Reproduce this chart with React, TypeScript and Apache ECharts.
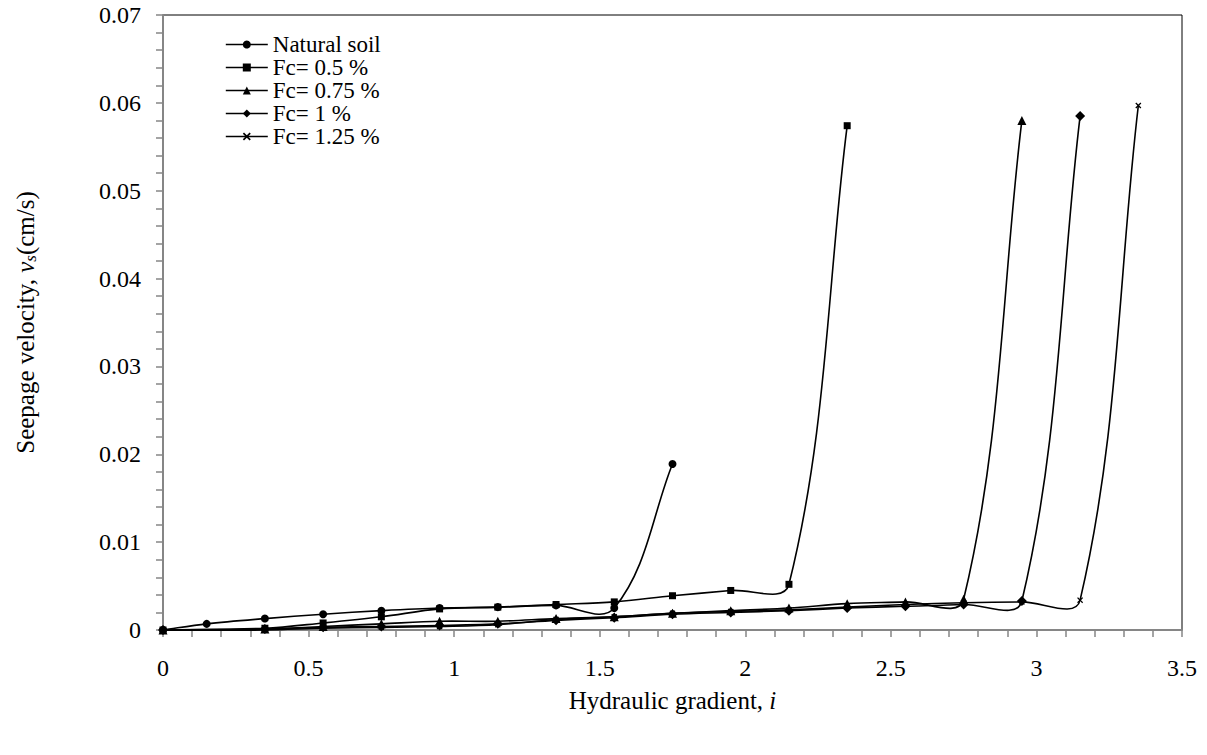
import React, { useEffect, useRef } from "react";
import * as echarts from "echarts";

// Hydraulic gradient values (x)
const gradNatural = [0, 0.15, 0.35, 0.55, 0.75, 0.95, 1.15, 1.35, 1.55, 1.75];
const gradFc = [0, 0.35, 0.55, 0.75, 0.95, 1.15, 1.35, 1.55, 1.75, 1.95, 2.15, 2.35, 2.55, 2.75, 2.95, 3.15, 3.35];

// Seepage velocity values (cm/s)
const velNatural = [0, 0.0007, 0.0013, 0.0018, 0.0022, 0.0025, 0.0026, 0.0028, 0.0025, 0.0189];
const velFc050 = [0, 0.0002, 0.0008, 0.0015, 0.0024, 0.0026, 0.0029, 0.0032, 0.0039, 0.0045, 0.0052, 0.0574];
const velFc075 = [0, 0.0001, 0.0004, 0.0007, 0.001, 0.001, 0.0013, 0.0015, 0.0019, 0.0022, 0.0025, 0.003, 0.0032, 0.0035, 0.058];
const velFc100 = [0, 0.0001, 0.0003, 0.0004, 0.0005, 0.0007, 0.0011, 0.0014, 0.0018, 0.002, 0.0022, 0.0025, 0.0027, 0.0029, 0.0033, 0.0585];
const velFc125 = [0, 0, 0.0002, 0.0003, 0.0004, 0.0006, 0.0012, 0.0015, 0.0019, 0.0021, 0.0023, 0.0026, 0.0029, 0.0031, 0.0032, 0.0034, 0.0597];

const seriesNames = ["Natural soil", "Fc= 0.5 %", "Fc= 0.75 %", "Fc= 1 %", "Fc= 1.25 %"];

const xTicks = { min: 0, max: 3.5, interval: 0.5 };
const yTicks = { min: 0, max: 0.07, interval: 0.01 };

const crossPath =
  "path://M0,1.5L1.5,0L5,3.5L8.5,0L10,1.5L6.5,5L10,8.5L8.5,10L5,6.5L1.5,10L0,8.5L3.5,5Z";

const FONT = "Liberation Serif";

function pairs(xs: number[], ys: number[]) {
  return ys.map((v, i) => [xs[i], v]);
}

// Smooth Bezier through pixel points: tangent from neighbours, handle length from the segment length
function smoothPath(pts: number[][], k = 0.34) {
  const n = pts.length;
  const tangent = (i: number) => {
    const p = pts[Math.max(0, i - 1)];
    const q = pts[Math.min(n - 1, i + 1)];
    const dx = q[0] - p[0];
    const dy = q[1] - p[1];
    const L = Math.hypot(dx, dy) || 1;
    return [dx / L, dy / L];
  };
  let d = `M${pts[0][0]},${pts[0][1]}`;
  for (let i = 0; i < n - 1; i++) {
    const a = pts[i];
    const b = pts[i + 1];
    const len = Math.hypot(b[0] - a[0], b[1] - a[1]);
    const ta = tangent(i);
    const tb = tangent(i + 1);
    const c1 = [a[0] + ta[0] * len * k, a[1] + ta[1] * len * k];
    const c2 = [b[0] - tb[0] * len * k, b[1] - tb[1] * len * k];
    d += ` C${c1[0]},${c1[1]} ${c2[0]},${c2[1]} ${b[0]},${b[1]}`;
  }
  return d;
}

export default function App() {
  const ref = useRef<HTMLDivElement>(null);
  useEffect(() => {
    document.body.style.margin = "0";
    const chart = echarts.init(ref.current!, null, { renderer: "svg" });
    const allData = [
      pairs(gradNatural, velNatural),
      pairs(gradFc, velFc050),
      pairs(gradFc, velFc075),
      pairs(gradFc, velFc100),
      pairs(gradFc, velFc125),
    ];
    const symbols = ["circle", "rect", "triangle", "diamond", crossPath];
    const sizes = [8, 7, 9, 10, 6];

    const markerSeries = allData.map((data, i) => ({
      name: seriesNames[i],
      type: "line",
      data,
      symbol: symbols[i],
      symbolSize: sizes[i],
      showAllSymbol: true,
      z: 3,
      lineStyle: { color: "#000", width: 1.6, opacity: 0 },
      itemStyle: { color: "#000" },
      emphasis: { disabled: true },
      silent: true,
    }));

    const curveSeries = allData.map((data, i) => ({
      name: "curve" + i,
      type: "custom",
      coordinateSystem: "cartesian2d",
      data: [[data[0][0], data[0][1]]],
      z: 2,
      silent: true,
      renderItem: (_params: any, api: any) => {
        const pts = data.map((p) => api.coord(p));
        return {
          type: "path",
          shape: { pathData: smoothPath(pts) },
          style: { stroke: "#000", fill: "none", lineWidth: 1.6 },
        };
      },
    }));

    chart.setOption({
      animation: false,
      backgroundColor: "#fff",
      textStyle: { fontFamily: FONT, color: "#000" },
      grid: {
        left: 163,
        right: 25,
        top: 15,
        bottom: 125,
        show: true,
        borderColor: "#000",
        borderWidth: 1,
        backgroundColor: "transparent",
      },
      legend: {
        orient: "vertical",
        left: 220,
        top: 28,
        itemWidth: 42,
        itemHeight: 10,
        itemGap: 0,
        data: seriesNames,
        lineStyle: { color: "#000", width: 1.6, opacity: 1 },
        textStyle: { fontFamily: FONT, fontSize: 23, color: "#000" },
      },
      xAxis: {
        type: "value",
        ...xTicks,
        name: "Hydraulic gradient, {i|i}",
        nameLocation: "middle",
        nameGap: 58,
        nameTextStyle: {
          fontFamily: FONT,
          fontSize: 25,
          color: "#000",
          rich: { i: { fontFamily: FONT, fontSize: 25, fontStyle: "italic", color: "#000" } },
        },
        axisLine: { lineStyle: { color: "#868686", width: 2 } },
        axisTick: { show: true, length: 7, lineStyle: { color: "#868686", width: 1.5 } },
        minorTick: { show: true, splitNumber: 5, length: 7, lineStyle: { color: "#868686", width: 1.5 } },
        splitLine: { show: false },
        axisLabel: { fontFamily: FONT, fontSize: 24, color: "#000", margin: 26 },
      },
      yAxis: {
        type: "value",
        ...yTicks,
        name: "{a|Seepage velocity, }{i|v}{s|s}{a|(cm/s)}",
        nameLocation: "middle",
        nameRotate: 90,
        nameGap: 124,
        nameTextStyle: {
          fontFamily: FONT,
          fontSize: 25,
          color: "#000",
          rich: {
            a: { fontFamily: FONT, fontSize: 25, color: "#000" },
            i: { fontFamily: FONT, fontSize: 25, fontStyle: "italic", color: "#000" },
            s: { fontFamily: FONT, fontSize: 17, fontStyle: "italic", color: "#000", padding: [11, 0, 0, 0] },
          },
        },
        axisLine: { show: true, lineStyle: { color: "#868686", width: 2 } },
        axisTick: { show: true, length: 7, lineStyle: { color: "#868686", width: 1.5 } },
        minorTick: { show: true, splitNumber: 5, length: 7, lineStyle: { color: "#868686", width: 1.5 } },
        splitLine: { show: false },
        axisLabel: {
          fontFamily: FONT,
          fontSize: 24,
          color: "#000",
          margin: 22,
          formatter: (v: number) => (v === 0 ? "0" : v.toFixed(2)),
        },
      },
      series: [...curveSeries, ...markerSeries],
    });
    return () => chart.dispose();
  }, []);
  return (
    <div
      ref={ref}
      style={{ position: "fixed", left: 0, top: 0, width: 1207, height: 755, background: "#fff" }}
    />
  );
}
